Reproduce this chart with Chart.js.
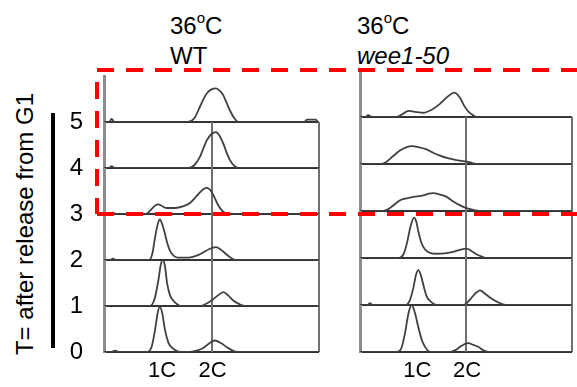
<!DOCTYPE html>
<html>
<head>
<meta charset="utf-8">
<script src="https://cdn.jsdelivr.net/npm/chart.js@4.4.1/dist/chart.umd.min.js"></script>
<style>
    body { margin: 0; background: #fff; font-family: Arial, "Liberation Sans", sans-serif; }
    #page { position: relative; width: 577px; height: 387px; overflow: hidden; }
    canvas { position: absolute; }
    #wtChart { left: 60px; top: 70px; }
    #weeChart { left: 350px; top: 60px; }
    .title { position: absolute; font-size: 24px; line-height: 24px; color: #000; white-space: nowrap; }
    .title .deg { font-size: 15px; position: relative; top: -11px; }
    #axisTitle { position: absolute; left: 25px; top: 224px; font-size: 24px; line-height: 24px; white-space: nowrap;
        transform: translate(-50%, -50%) rotate(-90deg); }
    #timeBar { position: absolute; left: 51px; top: 113px; width: 4px; height: 235px; background: #000; }
    #highlight { position: absolute; left: 0; top: 0; pointer-events: none; }
</style>
</head>
<body>
<div id="page">
    <div class="title" style="left:170px; top:14px;">36<span class="deg">o</span>C</div>
    <div class="title" style="left:170px; top:44px;">WT</div>
    <div class="title" style="left:357px; top:14px;">36<span class="deg">o</span>C</div>
    <div class="title" style="left:357px; top:44px; font-style:italic;">wee1-50</div>
    <div id="axisTitle">T= after release from G1</div>
    <div id="timeBar"></div>
    <canvas id="wtChart" width="263" height="317"></canvas>
    <canvas id="weeChart" width="227" height="327"></canvas>
    <svg id="highlight" width="577" height="387">
        <g stroke="#ff0000" stroke-width="4" stroke-dasharray="17 12" fill="none">
            <line x1="97" y1="70" x2="577" y2="70"/>
            <line x1="97" y1="82" x2="97" y2="214"/>
            <line x1="97" y1="214" x2="577" y2="214"/>
        </g>
    </svg>
</div>
<script>
// time points (rows, bottom to top) and DNA content ticks
const rowLabels = ['0', '1', '2', '3', '4', '5'];
const ploidyLabels = ['1C', '2C'];
const ploidyChannels = [270, 505];
const guideChannels = [500, 1000];

// WT histograms: [channel, relative count]
const wt0 = [[0,0],[35,0],[51,3],[70,0],[200,0],[222,12],[237,47],[250,86],[260,98],[271,84],[284,47],[300,20],[315,10],[335,3],[355,0],[400,0],[430,3],[460,8],[490,19],[516,25],[545,19],[570,11],[595,4],[620,0],[1000,0]];
const wt1 = [[0,0],[215,0],[235,15],[253,56],[264,90],[273,100],[283,88],[294,48],[308,22],[322,12],[340,4],[355,0],[450,0],[475,5],[500,12],[527,22],[555,30],[580,22],[601,12],[630,4],[656,0],[1000,0]];
const wt2 = [[0,0],[30,0],[42,3],[55,0],[210,0],[225,14],[237,48],[250,78],[260,88],[272,76],[284,56],[296,34],[307,20],[325,9],[345,5],[380,5],[414,7],[440,11],[460,16],[490,24],[521,28],[545,22],[570,12],[590,5],[610,0],[1000,0]];
const wt3 = [[0,0],[30,0],[40,3],[55,0],[195,0],[220,10],[240,19],[253,21],[268,18],[290,13],[330,13],[370,17],[400,24],[440,44],[465,55],[478,57],[495,52],[510,40],[530,20],[548,8],[565,2],[585,0],[1000,0]];
const wt4 = [[0,0],[25,0],[35,4],[50,0],[395,0],[420,6],[446,24],[465,46],[478,60],[500,74],[521,78],[540,68],[555,53],[570,34],[586,17],[605,5],[625,0],[1000,0]];
const wt5 = [[0,0],[25,0],[35,7],[50,0],[390,0],[420,8],[446,33],[465,52],[478,62],[500,71],[521,73],[540,67],[555,58],[570,42],[586,25],[605,9],[625,0],[930,0],[945,5],[985,5],[995,0],[1000,0]];

// wee1-50 histograms
const wee0 = [[0,0],[175,0],[195,8],[212,39],[228,81],[244,100],[258,85],[275,53],[292,25],[307,11],[320,3],[335,0],[425,0],[450,4],[472,11],[490,16],[511,19],[535,15],[558,11],[580,4],[605,0],[1000,0]];
const wee1 = [[0,0],[35,0],[47,4],[60,0],[215,0],[235,10],[252,37],[263,62],[275,74],[288,62],[302,37],[315,18],[330,9],[345,3],[362,0],[490,0],[510,7],[527,16],[545,25],[566,31],[590,24],[613,16],[650,6],[692,0],[1000,0]];
const wee2 = [[0,0],[185,0],[205,8],[220,29],[239,68],[255,86],[265,78],[275,57],[290,32],[307,18],[330,11],[362,9],[400,10],[440,13],[475,18],[503,20],[525,15],[550,8],[575,3],[597,0],[1000,0]];
const wee3 = [[0,0],[105,0],[140,6],[189,23],[220,27],[252,30],[299,33],[325,37],[346,38],[370,36],[409,30],[440,20],[472,12],[510,5],[540,2],[566,0],[1000,0]];
const wee4 = [[0,0],[100,0],[125,5],[157,17],[190,29],[220,36],[244,38],[275,36],[314,31],[345,24],[377,18],[410,13],[440,10],[470,7],[503,5],[530,2],[550,0],[1000,0]];
const wee5 = [[0,0],[25,0],[38,4],[55,0],[170,0],[200,6],[228,13],[260,11],[299,9],[340,16],[377,28],[410,42],[445,52],[470,42],[495,21],[515,10],[527,6],[550,0],[1000,0]];

document.addEventListener('DOMContentLoaded', () => {
    Chart.defaults.font.family = 'Arial, "Liberation Sans", sans-serif';
    Chart.defaults.color = '#000';

    // vertical rules at 2C and the right edge, only below the top row
    const guideLines = {
        id: 'guideLines',
        beforeDatasetsDraw(chart) {
            const { ctx, scales } = chart;
            const top = scales['r' + (rowLabels.length - 2)].top;
            const bottom = chart.chartArea.bottom;
            ctx.save();
            ctx.strokeStyle = '#707070';
            ctx.lineWidth = 2;
            guideChannels.forEach(v => {
                const px = Math.round(scales.x.getPixelForValue(v));
                ctx.beginPath();
                ctx.moveTo(px, top);
                ctx.lineTo(px, bottom);
                ctx.stroke();
            });
            ctx.restore();
        }
    };

    // one stacked y axis per time point
    function rowScales(showLabels) {
        const scales = {};
        rowLabels.forEach((label, i) => {
            scales['r' + i] = {
                type: 'linear',
                position: 'left',
                stack: 'rows',
                stackWeight: 1,
                weight: i,
                min: 0,
                max: 100,
                border: { display: true, color: '#8c8c8c', width: 3 },
                grid: {
                    drawTicks: false,
                    lineWidth: 2,
                    color: c => (c.tick && c.tick.value === 0) ? '#333' : 'rgba(0,0,0,0)'
                },
                afterBuildTicks: s => { s.ticks = [{ value: 0 }]; },
                ticks: {
                    display: showLabels,
                    padding: 21,
                    font: { size: 24 },
                    callback: () => label
                },
                afterFit: s => {
                    // labels sit on the baselines, so no extra room above or below
                    s.width = showLabels ? 34 : 0;
                    s.paddingTop = 0;
                    s.paddingBottom = 0;
                }
            };
        });
        return scales;
    }

    function renderPanel(id, rows, showLabels, padding) {
        const ctx = document.getElementById(id).getContext('2d');
        new Chart(ctx, {
            type: 'line',
            data: {
                datasets: rows.map((row, i) => ({
                    label: 'T=' + rowLabels[i],
                    data: row.map(([x, y]) => ({ x, y })),
                    yAxisID: 'r' + i,
                    borderColor: '#404040',
                    borderWidth: 1.8,
                    pointRadius: 0,
                    cubicInterpolationMode: 'monotone',
                    fill: false
                }))
            },
            options: {
                responsive: false,
                animation: false,
                devicePixelRatio: 1,
                layout: { padding },
                plugins: { legend: { display: false }, tooltip: { enabled: false } },
                scales: {
                    x: {
                        type: 'linear',
                        min: 0,
                        max: 1000,
                        grid: { display: false, drawTicks: false },
                        border: { display: false },
                        afterBuildTicks: s => { s.ticks = ploidyChannels.map(v => ({ value: v })); },
                        ticks: {
                            padding: 6,
                            autoSkip: false,
                            maxRotation: 0,
                            font: { size: 22 },
                            callback: (v, i) => ploidyLabels[i]
                        },
                        afterFit: s => { s.height = 35; }
                    },
                    ...rowScales(showLabels)
                }
            },
            plugins: [guideLines]
        });
    }

    renderPanel('wtChart', [wt0, wt1, wt2, wt3, wt4, wt5], true, { left: 10, right: 4, top: 6, bottom: 0 });
    renderPanel('weeChart', [wee0, wee1, wee2, wee3, wee4, wee5], false, { left: 10, right: 5, top: 10, bottom: 0 });
});
</script>
</body>
</html>
